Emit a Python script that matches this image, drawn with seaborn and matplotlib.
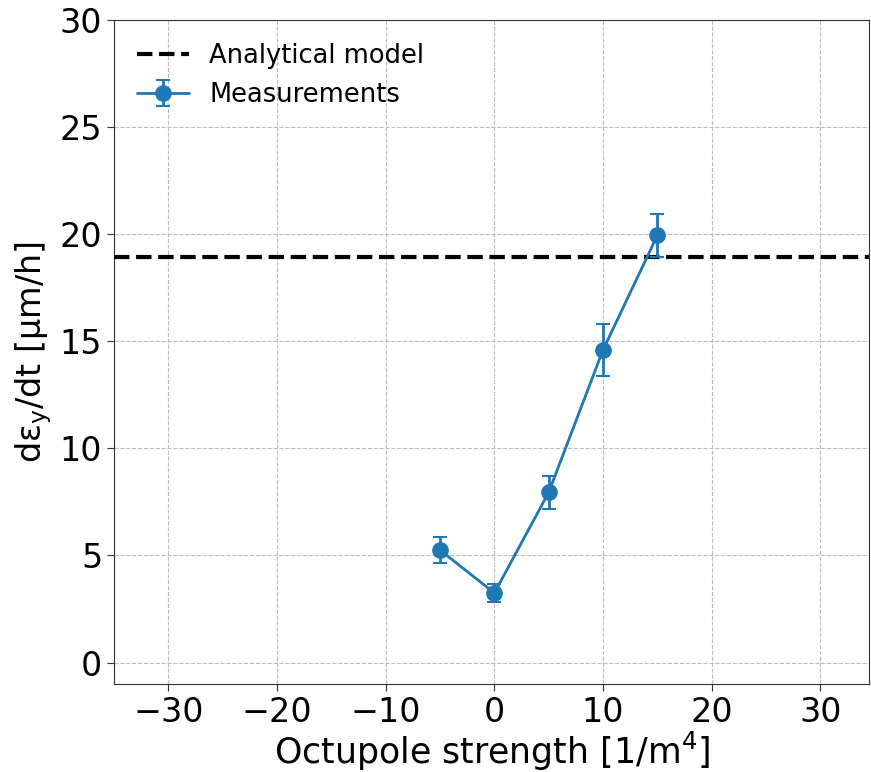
import numpy as np
import seaborn as sns
import matplotlib.pyplot as plt

# octupole strength scan
k3 = [-5, 0, 5, 10, 15]
rate = [5.25, 3.25, 7.95, 14.6, 19.95]
rate_err = [0.6, 0.4, 0.78, 1.2, 1.0]
model_rate = 18.95

sns.set_style("ticks")
plt.rcParams['font.family'] = ['DejaVu Sans']
plt.rcParams['text.color'] = 'black'
plt.rcParams['axes.labelcolor'] = 'black'
plt.rcParams['xtick.color'] = 'black'
plt.rcParams['ytick.color'] = 'black'
plt.rcParams['axes.edgecolor'] = '#333333'

fig = plt.figure(figsize=(8.71, 7.72), dpi=100)
ax = fig.add_axes([0.131, 0.114, 0.867, 0.86])

ax.axhline(model_rate, color='black', ls='--', lw=3, label='Analytical model', zorder=3)
ax.errorbar(k3, rate, yerr=rate_err, fmt='-o', color='#1f77b4', lw=2, ms=11,
            capsize=5, elinewidth=2, capthick=1.5, label='Measurements', zorder=4)

ax.set_xlim(-35, 34.5)
ax.set_ylim(-1, 30)
ax.set_xticks([-30, -20, -10, 0, 10, 20, 30])
ax.set_yticks([0, 5, 10, 15, 20, 25, 30])
ax.set_xticklabels(['\u221230', '\u221220', '\u221210', '0', '10', '20', '30'])
ax.grid(True, ls='--', color='#bbbbbb', lw=0.8)
ax.tick_params(labelsize=24, length=5, color='#333333')
ax.set_xlabel('Octupole strength [1/m$^4$]', fontsize=25, labelpad=1)
ax.set_ylabel('d\u03b5$_\\mathrm{y}$/dt [\u03bcm/h]', fontsize=24)
ax.legend(loc='upper left', fontsize=18.5, frameon=False)

fig.savefig('out.png', dpi=100)
